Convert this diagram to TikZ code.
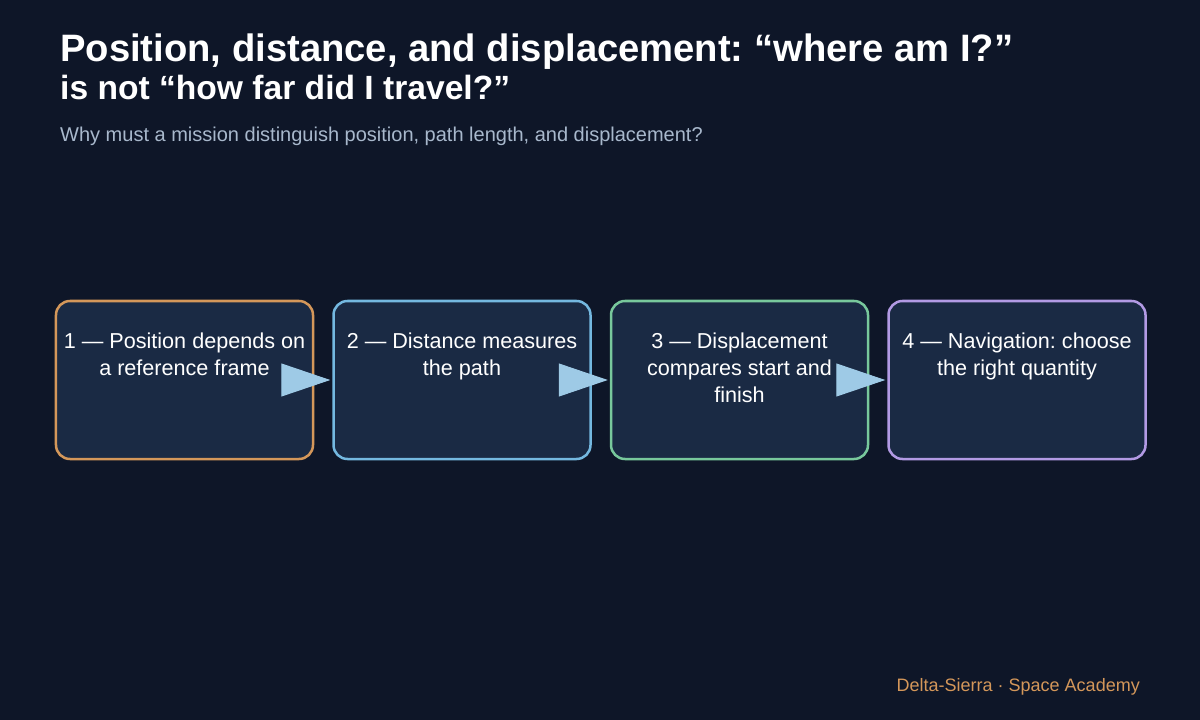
\documentclass[tikz,border=0pt]{standalone}
\usepackage{fontspec}
\setmainfont{Liberation Sans}
\usepackage{xcolor}
\usetikzlibrary{arrows.meta,positioning}
\frenchspacing

\definecolor{bgdark}{HTML}{0E1628}
\definecolor{boxfill}{HTML}{1A2A44}
\definecolor{subgrey}{HTML}{A8B8CC}
\definecolor{edgeorange}{HTML}{D4975A}
\definecolor{edgeblue}{HTML}{74B8E0}
\definecolor{edgegreen}{HTML}{78C89C}
\definecolor{edgepurple}{HTML}{B29AE4}
\definecolor{arrowblue}{HTML}{9ECAE6}

\newcommand{\stepbody}[1]{\parbox[c][94bp][t]{250bp}{\centering #1}}

\begin{document}
\begin{tikzpicture}[
    x=1bp, y=-1bp,
    node distance=18bp,
    stepbox/.style={rectangle, draw, line width=2.5bp, fill=boxfill, rounded corners=14bp, minimum width=257bp, minimum height=158bp, inner sep=0pt, text=white, font=\fontsize{21.6bp}{27bp}\selectfont},
    arrow/.style={-{Triangle[length=49bp, width=33bp]}, line width=1bp, draw=arrowblue, fill=arrowblue, shorten >=2bp}
]

% Background
\fill[bgdark] (0,0) rectangle (1200,720);
\useasboundingbox (0,0) rectangle (1200,720);

% Titles
\node[anchor=base west, inner sep=0pt, text=white, font=\fontsize{38.2bp}{40bp}\selectfont\bfseries] (title) at (60,62) {Position, distance, and displacement: “where am I?”};
\node[anchor=base west, inner sep=0pt, text=white, font=\fontsize{33.6bp}{38bp}\selectfont\bfseries] (titletwo) at (60,100) {is not “how far did I travel?”};
\node[anchor=base west, inner sep=0pt, text=subgrey, font=\fontsize{20bp}{24bp}\selectfont] (subtitle) at (60,142) {Why must a mission distinguish position, path length, and displacement?};

% Steps
\node[stepbox, draw=edgeorange] (frame) at (184.5,380) {\stepbody{1 — Position depends on\\ a reference frame}};
\node[stepbox, draw=edgeblue, right=of frame] (distance) {\stepbody{2 — Distance measures\\ the path}};
\node[stepbox, draw=edgegreen, right=of distance] (displacement) {\stepbody{3 — Displacement\\ compares start and\\ finish}};
\node[stepbox, draw=edgepurple, right=of displacement] (navigation) {\stepbody{4 — Navigation: choose\\ the right quantity}};

% Arrows
\draw[arrow] (frame.east) -- (distance.west);
\draw[arrow] (distance.east) -- (displacement.west);
\draw[arrow] (displacement.east) -- (navigation.west);

% Footer
\node[anchor=base east, inner sep=0pt, text=edgeorange, font=\fontsize{18bp}{22bp}\selectfont] (footer) at (1140,691) {Delta-Sierra · Space Academy};

\end{tikzpicture}
\end{document}
